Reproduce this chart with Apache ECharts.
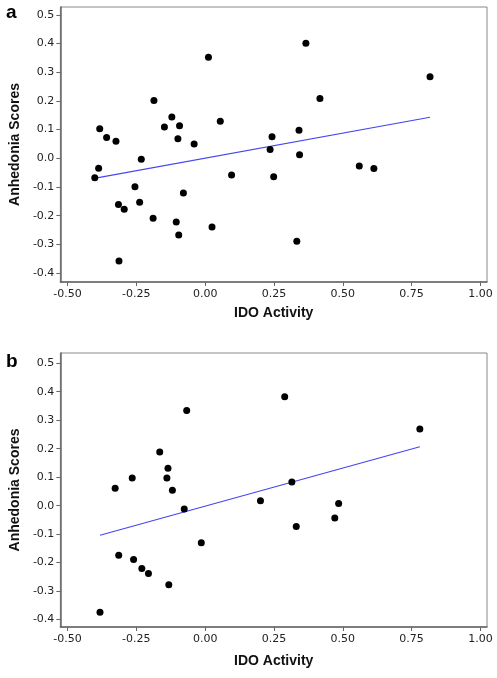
<!DOCTYPE html>
<html>
<head>
<meta charset="utf-8">
<script src="https://cdn.jsdelivr.net/npm/echarts@6/dist/echarts.min.js"></script>
<style>
html,body{margin:0;padding:0;background:#fff;}
#chart{width:497px;height:678px;}
</style>
</head>
<body>
<div id="chart"></div>
<script>
// ---- data ----
const xTickValues = [-0.5, -0.25, 0, 0.25, 0.5, 0.75, 1.0];
const yTickValues = [-0.4, -0.3, -0.2, -0.1, 0.0, 0.1, 0.2, 0.3, 0.4, 0.5];
const panelLabels = ['a', 'b'];
const xTitle = 'IDO Activity';
const yTitle = 'Anhedonia Scores';

const pointsA = [
  [-0.383, 0.103], [-0.358, 0.072], [-0.324, 0.059], [-0.186, 0.201],
  [-0.148, 0.109], [-0.121, 0.144], [-0.093, 0.113], [-0.099, 0.068],
  [-0.040, 0.050], [0.012, 0.352], [0.055, 0.129], [-0.232, -0.003],
  [0.366, 0.401], [0.817, 0.284], [0.417, 0.208], [0.341, 0.098],
  [0.243, 0.075], [0.236, 0.031], [0.343, 0.012],
  [-0.387, -0.035], [-0.401, -0.068], [-0.255, -0.099], [-0.238, -0.153],
  [-0.315, -0.161], [-0.294, -0.178], [-0.189, -0.209], [-0.079, -0.121],
  [-0.105, -0.222], [-0.096, -0.267], [0.025, -0.239], [0.096, -0.058],
  [-0.313, -0.358],
  [0.249, -0.064], [0.560, -0.027], [0.613, -0.036], [0.333, -0.289]
];
const fitA = [[-0.398, -0.069], [0.817, 0.143]];

const pointsB = [
  [-0.327, 0.061], [-0.265, 0.097], [-0.165, 0.188], [-0.135, 0.131],
  [-0.139, 0.097], [-0.119, 0.054], [-0.067, 0.334],
  [0.289, 0.382], [0.780, 0.269], [0.315, 0.083], [0.201, 0.017],
  [-0.076, -0.012], [-0.014, -0.130], [-0.314, -0.174], [-0.260, -0.189],
  [-0.230, -0.221], [-0.206, -0.238], [-0.132, -0.278], [-0.382, -0.374],
  [0.485, 0.008], [0.471, -0.043], [0.331, -0.073]
];
const fitB = [[-0.382, -0.104], [0.780, 0.207]];

// ---- chart ----
const labelFont = 'DejaVu Sans';
const axisColor = '#666';

function makeX(idx, gap) {
  return {
    type: 'value', gridIndex: idx, min: -0.526, max: 1.024,
    name: xTitle, nameLocation: 'middle', nameGap: gap,
    nameTextStyle: {fontFamily: 'Liberation Sans', fontWeight: 'bold', fontSize: 14, color: '#111'},
    splitLine: {show: false},
    axisLine: {show: true, onZero: false, lineStyle: {color: axisColor, width: 1.5}},
    axisTick: {show: true, length: 4, customValues: xTickValues, lineStyle: {color: axisColor}},
    axisLabel: {customValues: xTickValues, margin: 7, fontFamily: labelFont, fontSize: 11, color: '#222',
      formatter: v => v.toFixed(2)}
  };
}
function makeY(idx, min, max) {
  return {
    type: 'value', gridIndex: idx, min: min, max: max,
    name: yTitle, nameLocation: 'middle', nameGap: 29, nameRotate: 90,
    nameTextStyle: {fontFamily: 'Liberation Sans', fontWeight: 'bold', fontSize: 14, color: '#111'},
    splitLine: {show: false},
    axisLine: {show: true, onZero: false, lineStyle: {color: axisColor, width: 1.5}},
    axisTick: {show: true, length: 4, customValues: yTickValues, lineStyle: {color: axisColor}},
    axisLabel: {customValues: yTickValues, margin: 6, fontFamily: labelFont, fontSize: 11, color: '#222',
      formatter: v => v.toFixed(1)}
  };
}

const chart = echarts.init(document.getElementById('chart'), null, {renderer: 'canvas'});
chart.setOption({
  animation: false,
  backgroundColor: '#fff',
  title: [
    {text: panelLabels[0], left: 6, top: 3, padding: 0,
      textStyle: {fontFamily: 'Liberation Sans', fontWeight: 'bold', fontSize: 19, color: '#000'}},
    {text: panelLabels[1], left: 6, top: 352, padding: 0,
      textStyle: {fontFamily: 'Liberation Sans', fontWeight: 'bold', fontSize: 19, color: '#000'}}
  ],
  grid: [
    {left: 53, top: 7, width: 434, height: 275, show: true, borderColor: '#888', borderWidth: 1, containLabel: false},
    {left: 53, top: 353, width: 434, height: 274, show: true, borderColor: '#888', borderWidth: 1, containLabel: false}
  ],
  xAxis: [makeX(0, 24), makeX(1, 27)],
  yAxis: [makeY(0, -0.431, 0.527), makeY(1, -0.426, 0.536)],
  series: [
    {type: 'scatter', xAxisIndex: 0, yAxisIndex: 0, data: pointsA, symbolSize: 7,
      itemStyle: {color: '#000', opacity: 1}, z: 3},
    {type: 'line', xAxisIndex: 0, yAxisIndex: 0, data: fitA, symbol: 'none',
      lineStyle: {color: '#4646f0', width: 1.2}, z: 2},
    {type: 'scatter', xAxisIndex: 1, yAxisIndex: 1, data: pointsB, symbolSize: 7,
      itemStyle: {color: '#000', opacity: 1}, z: 3},
    {type: 'line', xAxisIndex: 1, yAxisIndex: 1, data: fitB, symbol: 'none',
      lineStyle: {color: '#4646f0', width: 1.2}, z: 2}
  ]
});
</script>
</body>
</html>
